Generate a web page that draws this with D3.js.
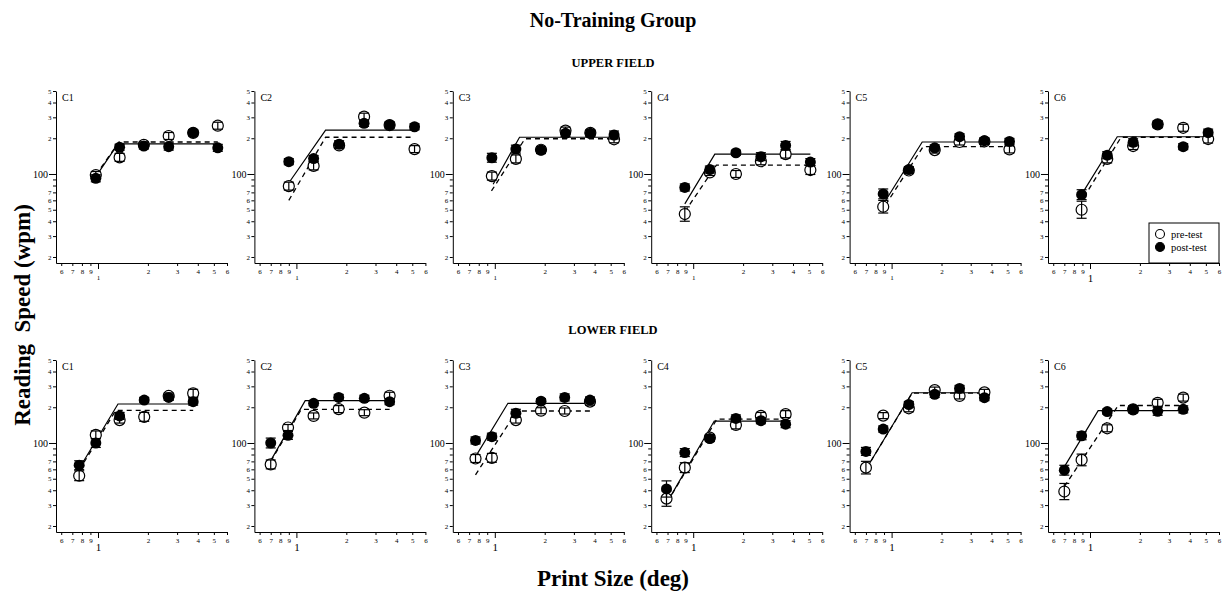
<!DOCTYPE html>
<html>
<head>
<meta charset="utf-8">
<script src="https://cdn.jsdelivr.net/npm/d3@7"></script>
<style>
  body { margin: 0; background: #fff; }
  svg { display: block; }
  text { font-family: "Liberation Serif", "Times New Roman", serif; fill: #000; }
</style>
</head>
<body>
<svg id="chart" width="1226" height="593"></svg>
<script>
const subjects = ['C1', 'C2', 'C3', 'C4', 'C5', 'C6'];
const fieldNames = ['UPPER FIELD', 'LOWER FIELD'];
const xTicks = [0.6, 0.7, 0.8, 0.9, 1, 2, 3, 4, 5, 6];
const yTicks = [20, 30, 40, 50, 60, 70, 80, 90, 100, 200, 300, 400, 500];
const legendLabels = ['pre-test', 'post-test'];

// print sizes (deg) for each subject
const upperSizes = [
  [0.97, 1.35, 1.89, 2.67, 3.75, 5.28],
  [0.90, 1.27, 1.81, 2.56, 3.65, 5.16],
  [0.96, 1.34, 1.90, 2.67, 3.77, 5.24],
  [0.89, 1.26, 1.81, 2.56, 3.61, 5.09],
  [0.89, 1.27, 1.82, 2.57, 3.63, 5.14],
  [0.89, 1.27, 1.82, 2.56, 3.65, 5.16]
];
const lowerSizes = [
  [0.77, 0.97, 1.35, 1.90, 2.67, 3.75],
  [0.70, 0.89, 1.27, 1.80, 2.57, 3.65],
  [0.765, 0.96, 1.34, 1.90, 2.64, 3.75],
  [0.69, 0.89, 1.26, 1.81, 2.56, 3.61],
  [0.70, 0.89, 1.27, 1.82, 2.57, 3.63],
  [0.70, 0.89, 1.27, 1.82, 2.56, 3.65]
];

// reading speed (wpm)
const upperPre = [
  [98, 138, 176, 209, 222, 255],
  [79, 117, 174, 304, 258, 162],
  [96, 134, 160, 232, 222, 196],
  [46, 103, 100, 128, 147, 108],
  [53, 107, 159, 186, 188, 161],
  [50, 134, 172, 262, 245, 197]
];
const upperPost = [
  [92, 168, 172, 170, 223, 166],
  [127, 135, 178, 267, 259, 250],
  [137, 162, 159, 220, 220, 213],
  [77, 109, 151, 140, 174, 126],
  [68, 109, 166, 206, 191, 188],
  [67, 144, 185, 262, 170, 223]
];
const lowerPre = [
  [53, 117, 156, 166, 249, 262],
  [66, 135, 169, 193, 180, 250],
  [74, 75, 156, 187, 186, 223],
  [34, 62, 111, 142, 169, 175],
  [62, 170, 196, 279, 249, 267],
  [39, 72, 133, 192, 218, 241]
];
const lowerPost = [
  [65, 100, 169, 230, 242, 223],
  [100, 116, 216, 242, 238, 223],
  [105, 113, 178, 225, 242, 230],
  [41, 83, 109, 161, 154, 144],
  [85, 131, 211, 257, 288, 241],
  [59, 115, 184, 192, 185, 192]
];

// error (percent of value)
const upperPreErr = [
  [7, 8, 6, 7, 6, 7], [8, 8, 6, 7, 6, 7], [8, 8, 6, 7, 6, 7],
  [15, 6, 7, 7, 8, 9], [13, 6, 6, 6, 6, 7], [18, 8, 7, 6, 7, 8]
];
const upperPostErr = [
  [7, 6, 6, 7, 6, 7], [6, 6, 7, 6, 6, 6], [9, 8, 7, 6, 6, 8],
  [7, 7, 5, 8, 8, 7], [10, 6, 6, 6, 6, 6], [10, 7, 7, 7, 6, 7]
];
const lowerPreErr = [
  [10, 8, 6, 9, 6, 8], [9, 6, 6, 7, 6, 7], [8, 9, 6, 6, 6, 7],
  [16, 10, 6, 8, 7, 7], [13, 6, 7, 6, 6, 6], [17, 12, 7, 6, 7, 7]
];
const lowerPostErr = [
  [9, 9, 7, 5, 6, 7], [10, 8, 5, 6, 6, 6], [7, 7, 8, 5, 7, 6],
  [17, 8, 6, 7, 6, 7], [8, 6, 6, 6, 6, 6], [10, 8, 5, 7, 8, 7]
];

// two-limb fits: [start], [critical print size, max speed], [end]
const upperPreFit = [
  [[0.97, 98], [1.34, 186], [5.28, 186]],
  [[0.90, 60], [1.50, 204], [5.16, 204]],
  [[0.955, 72], [1.52, 198], [5.24, 198]],
  [[0.89, 48], [1.38, 119], [5.09, 119]],
  [[0.92, 55], [1.55, 170], [5.14, 170]],
  [[0.92, 64], [1.54, 204], [5.16, 204]]
];
const upperPostFit = [
  [[0.97, 95], [1.32, 179], [5.28, 179]],
  [[0.91, 86], [1.50, 234], [5.16, 234]],
  [[0.977, 82], [1.41, 204], [5.24, 204]],
  [[0.89, 56], [1.35, 147], [5.09, 147]],
  [[0.90, 57], [1.53, 186], [5.14, 186]],
  [[0.90, 69], [1.46, 206], [5.16, 206]]
];
const lowerPreFit = [
  [[0.77, 59], [1.28, 188], [3.75, 188]],
  [[0.70, 70], [1.07, 192], [3.65, 192]],
  [[0.765, 54], [1.36, 186], [3.75, 186]],
  [[0.70, 32], [1.39, 159], [3.61, 159]],
  [[0.705, 61], [1.33, 263], [3.63, 263]],
  [[0.70, 43], [1.48, 207], [3.65, 207]]
];
const lowerPostFit = [
  [[0.77, 61], [1.32, 213], [3.75, 213]],
  [[0.70, 71], [1.13, 227], [3.65, 227]],
  [[0.775, 79], [1.20, 216], [3.75, 216]],
  [[0.69, 31], [1.34, 153], [3.61, 153]],
  [[0.705, 61], [1.33, 265], [3.63, 265]],
  [[0.70, 63], [1.12, 187], [3.65, 187]]
];

const rowsData = [
  { sizes: upperSizes, pre: upperPre, post: upperPost, preErr: upperPreErr, postErr: upperPostErr, preFit: upperPreFit, postFit: upperPostFit },
  { sizes: lowerSizes, pre: lowerPre, post: lowerPost, preErr: lowerPreErr, postErr: lowerPostErr, preFit: lowerPreFit, postFit: lowerPostFit }
];

const svg = d3.select('#chart');
const left0 = 56, colStep = 198.4;
const rowTop = [91, 360];
const plotW = 171, plotH = 172;
const r = 5.5, capW = 5;

const x = d3.scaleLog().domain([0.558, 6]).range([0, plotW]);
const y = d3.scaleLog().domain([17.8, 500]).range([plotH, 0]);

const line = d3.line().x(d => x(d[0])).y(d => y(d[1]));

// titles
svg.append('text').attr('x', 613).attr('y', 27).attr('text-anchor', 'middle')
  .style('font-size', '20px').style('font-weight', 'bold').text('No-Training Group');
svg.append('text').attr('x', 613).attr('y', 67).attr('text-anchor', 'middle')
  .style('font-size', '12.5px').style('font-weight', 'bold').text(fieldNames[0]);
svg.append('text').attr('x', 613).attr('y', 334).attr('text-anchor', 'middle')
  .style('font-size', '12.5px').style('font-weight', 'bold').text(fieldNames[1]);
svg.append('text').attr('transform', 'translate(30,315) rotate(-90)').attr('text-anchor', 'middle')
  .style('font-size', '23px').style('font-weight', 'bold').style('white-space', 'pre')
  .text('Reading  Speed (wpm)');
svg.append('text').attr('x', 613).attr('y', 586).attr('text-anchor', 'middle')
  .style('font-size', '23px').style('font-weight', 'bold').text('Print Size (deg)');

rowsData.forEach((row, ri) => {
  subjects.forEach((name, si) => {
    const g = svg.append('g')
      .attr('transform', `translate(${left0 + si * colStep},${rowTop[ri]})`);
    const bigOne = ri === 1 || si === 5;

    // y axis
    const yAxis = g.append('g').call(
      d3.axisLeft(y)
        .tickValues(yTicks)
        .tickSize(3)
        .tickSizeOuter(0)
        .tickPadding(1.5)
        .tickFormat(d => (d === 100 ? '100' : d === 80 || d === 90 ? '' : String(d >= 200 ? d / 100 : d / 10)))
    );
    yAxis.select('.domain').attr('stroke-width', 1);
    yAxis.selectAll('.tick text').style('font-size', '7px').style('font-family', '"Liberation Serif", serif');
    yAxis.selectAll('.tick').filter(d => d === 100).each(function () {
      d3.select(this).select('line').attr('x2', -7);
      d3.select(this).select('text').attr('x', -8).style('font-size', '10px');
    });

    // x axis
    const xAxis = g.append('g').attr('transform', `translate(0,${plotH})`).call(
      d3.axisBottom(x)
        .tickValues(xTicks)
        .tickSize(3)
        .tickSizeOuter(0)
        .tickPadding(3)
        .tickFormat(d => (d < 1 ? String(Math.round(d * 10)) : String(d)))
    );
    xAxis.select('.domain').attr('stroke-width', 1);
    xAxis.selectAll('.tick text').style('font-size', '7px').style('font-family', '"Liberation Serif", serif');
    xAxis.selectAll('.tick').filter(d => d === 1).each(function () {
      d3.select(this).select('line').attr('y2', 6);
      d3.select(this).select('text').attr('y', bigOne ? 11 : 12)
        .style('font-size', bigOne ? '11px' : '7px');
    });

    // subject label
    g.append('text').attr('x', 6).attr('y', 10).style('font-size', '10px').text(name);

    // fitted lines
    g.append('path').attr('fill', 'none').attr('stroke', '#000').attr('stroke-width', 1.3)
      .attr('stroke-dasharray', '5,4').attr('d', line(row.preFit[si]));
    g.append('path').attr('fill', 'none').attr('stroke', '#000').attr('stroke-width', 1.2)
      .attr('d', line(row.postFit[si]));

    const pts = (vals, errs) => row.sizes[si].map((s, i) => ({ s, v: vals[i], e: errs[i] / 100 }));
    const drawErr = (sel, data) => {
      const eg = sel.append('g').attr('stroke', '#000').attr('stroke-width', 1.2);
      data.forEach(d => {
        const cx = x(d.s);
        const y0 = y(d.v / (1 + d.e)), y1 = y(d.v * (1 + d.e));
        eg.append('line').attr('x1', cx).attr('x2', cx).attr('y1', y0).attr('y2', y1);
        eg.append('line').attr('x1', cx - capW).attr('x2', cx + capW).attr('y1', y0).attr('y2', y0);
        eg.append('line').attr('x1', cx - capW).attr('x2', cx + capW).attr('y1', y1).attr('y2', y1);
      });
    };

    const preData = pts(row.pre[si], row.preErr[si]);
    const postData = pts(row.post[si], row.postErr[si]);

    g.append('g').selectAll('circle').data(preData).join('circle')
      .attr('cx', d => x(d.s)).attr('cy', d => y(d.v)).attr('r', r)
      .attr('fill', '#fff').attr('stroke', '#000').attr('stroke-width', 1.2);
    drawErr(g, preData);

    drawErr(g, postData);
    g.append('g').selectAll('circle').data(postData).join('circle')
      .attr('cx', d => x(d.s)).attr('cy', d => y(d.v)).attr('r', r)
      .attr('fill', '#000');

    // legend in the last upper panel
    if (ri === 0 && si === 5) {
      const lg = g.append('g').attr('transform', 'translate(101,132)');
      lg.append('rect').attr('width', 70).attr('height', 40)
        .attr('fill', '#fff').attr('stroke', '#000').attr('stroke-width', 1);
      legendLabels.forEach((lab, i) => {
        lg.append('circle').attr('cx', 11).attr('cy', 11 + i * 13).attr('r', 4.5)
          .attr('fill', i === 0 ? '#fff' : '#000').attr('stroke', '#000').attr('stroke-width', 1.1);
        lg.append('text').attr('x', 22).attr('y', 14.5 + i * 13).style('font-size', '10.5px').text(lab);
      });
    }
  });
});
</script>
</body>
</html>
